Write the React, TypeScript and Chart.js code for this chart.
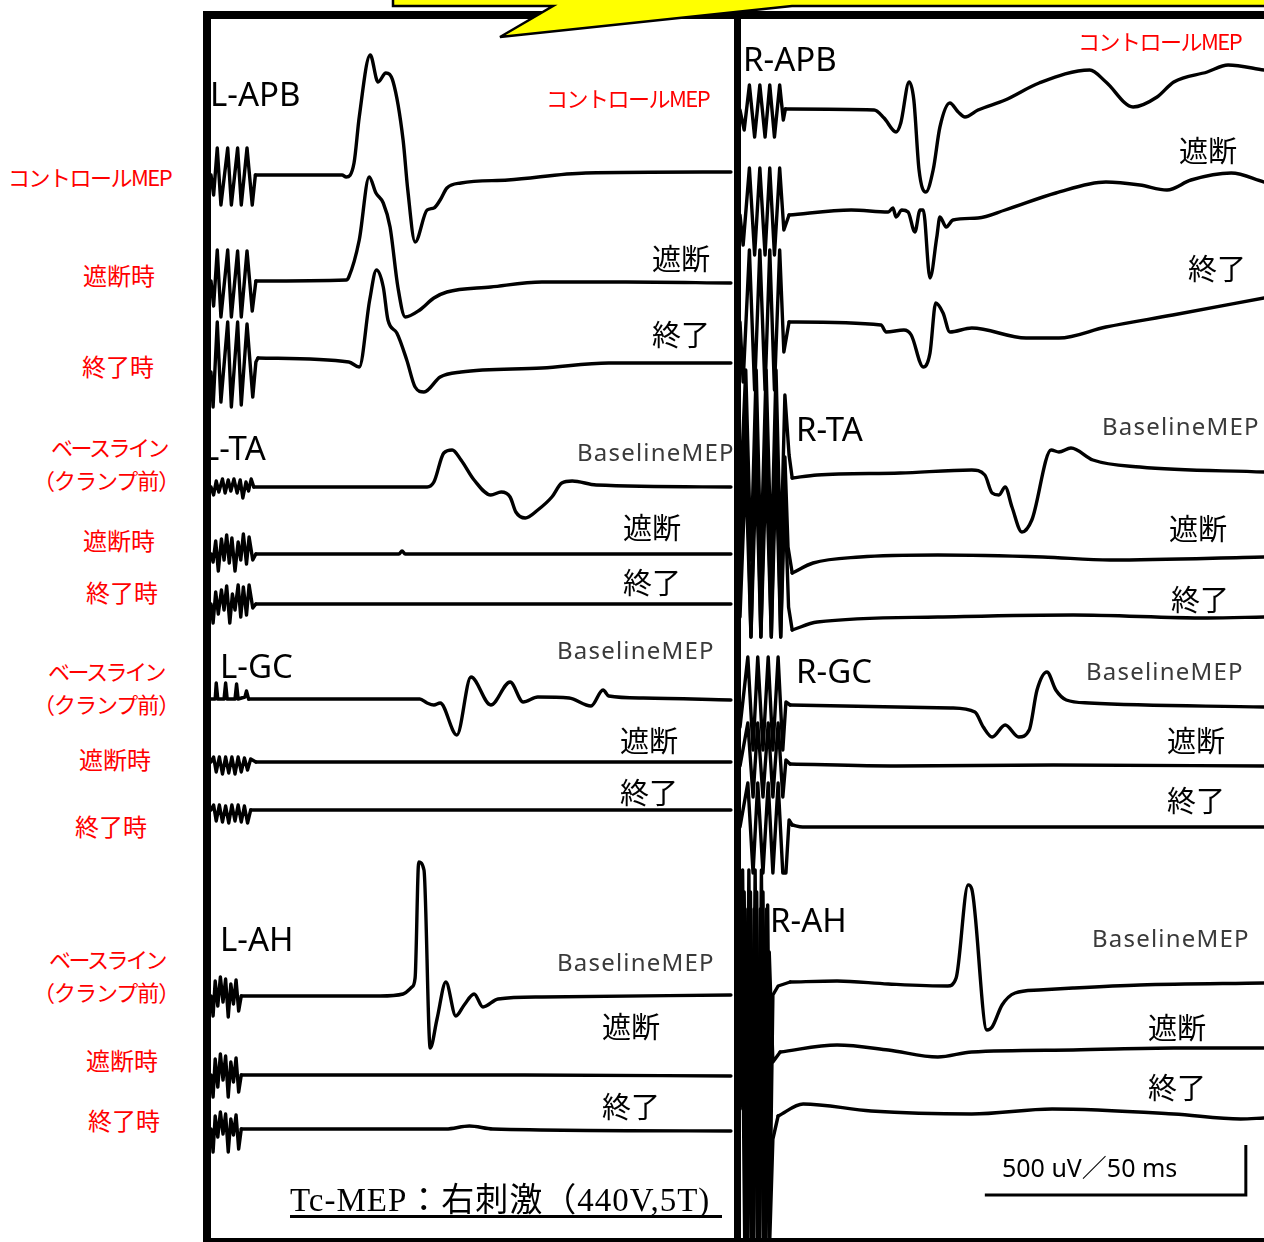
import React, { useEffect, useRef } from "react";
import { Chart, registerables } from "chart.js";

Chart.register(...registerables);

type Pt = [number, number]; // [time ms, amplitude uV]

// ---------------- LEFT panel traces ----------------
const L_APB_CONTROL: Pt[] = [[0,0],[0.5,-200],[1.2,270],[1.9,-300],[3.2,270],[3.9,-300],[5.1,270],[5.8,-300],[6.9,270],[7.9,-300],[8.5,0],[25.1,0],[25.9,-20],[27.4,120],[28.4,580],[30.5,1200],[32.0,930],[33.5,1020],[34.9,930],[36.8,350],[37.7,-150],[39.1,-670],[41.4,-350],[42.7,-330],[43.9,-250],[45.2,-130],[47.9,-80],[56.9,-50],[71.8,20],[99.6,30]];
const L_APB_BLOCK: Pt[] = [[0,0],[0.5,-250],[1.2,310],[1.9,-360],[3.2,310],[3.9,-360],[5.1,300],[5.8,-360],[6.9,300],[7.9,-300],[8.6,0],[25.9,10],[26.4,40],[28.4,410],[30.3,1040],[31.6,880],[33.0,780],[34.3,540],[35.8,-60],[37.2,-360],[40.0,-290],[42.7,-170],[45.2,-110],[53.6,-60],[63.4,-10],[79.5,-10],[99.6,-20]];
const L_APB_END: Pt[] = [[0,-100],[0.4,-450],[1.2,400],[1.9,-400],[3.2,400],[3.9,-450],[5.1,400],[5.8,-430],[6.9,380],[8.0,-350],[8.6,0],[9.0,40],[26.4,0],[28.4,-50],[30.4,620],[31.7,920],[33.0,750],[33.9,420],[35.6,290],[37.5,20],[39.1,-250],[40.8,-300],[43.9,-150],[47.9,-100],[63.4,-60],[76.2,-10],[99.6,-10]];

const L_TA_BASE: Pt[] = [[0,0],[0.5,-80],[1.0,60],[1.5,-50],[2.2,80],[2.7,-60],[3.3,70],[3.8,-40],[4.4,80],[5.0,-60],[5.6,70],[6.1,-110],[6.7,50],[7.2,-40],[7.7,80],[8.2,0],[41.4,0],[42.7,50],[44.6,340],[46.2,370],[47.9,270],[50.4,70],[53.6,-80],[55.6,-50],[57.3,-100],[58.4,-250],[60.2,-310],[62.6,-230],[65.3,-100],[67.2,40],[69.2,60],[73.8,20],[99.6,0]];
const L_TA_BLOCK: Pt[] = [[0,0],[0.4,-80],[0.9,130],[1.4,-170],[2.0,150],[2.5,-60],[3.0,190],[3.5,-90],[4.0,160],[4.6,-170],[5.2,120],[5.7,-60],[6.2,200],[6.8,-100],[7.3,170],[8.0,-60],[8.6,0],[36.0,0],[36.6,30],[37.2,0],[99.6,0]];
const L_TA_END: Pt[] = [[0,0],[0.4,-190],[0.9,120],[1.4,-100],[2.0,140],[2.5,-60],[3.0,180],[3.6,-190],[4.1,100],[4.6,-60],[5.2,190],[5.7,-130],[6.2,170],[6.8,-110],[7.3,190],[8.0,-40],[8.6,0],[99.6,0]];

const L_GC_BASE: Pt[] = [[0,0],[0.8,0],[1.0,160],[1.3,0],[2.5,0],[2.8,160],[3.1,0],[4.6,0],[4.9,150],[5.2,0],[6.5,20],[6.8,80],[7.2,0],[40.0,0],[41.4,-40],[42.7,-60],[43.9,-40],[47.1,-360],[49.8,220],[53.6,-60],[57.3,170],[59.8,-30],[62.6,20],[68.6,10],[72.8,-70],[75.1,90],[76.2,30],[82.8,10],[99.6,-10]];
const L_GC_BLOCK: Pt[] = [[0,0],[0.5,50],[1.0,-100],[1.6,50],[2.2,-120],[2.8,50],[3.4,-110],[4.0,50],[4.6,-120],[5.2,50],[5.8,-100],[6.4,40],[7.0,-80],[7.6,30],[8.6,0],[99.6,0]];
const L_GC_END: Pt[] = [[0,0],[0.5,50],[1.0,-110],[1.6,50],[2.2,-120],[2.8,40],[3.4,-130],[4.0,50],[4.6,-110],[5.2,50],[5.8,-120],[6.4,40],[7.0,-130],[7.6,0],[99.6,0]];

const L_AH_BASE: Pt[] = [[0,0],[0.4,-200],[0.8,150],[1.3,-100],[1.8,190],[2.3,-60],[2.8,170],[3.3,-210],[3.8,120],[4.3,-80],[4.8,160],[5.3,-150],[5.8,0],[32.4,0],[36.8,20],[38.5,90],[39.1,180],[39.8,1340],[40.8,1260],[42.0,-520],[43.3,-230],[45.0,140],[46.9,-200],[48.5,-90],[50.4,20],[52.1,-110],[55.0,-30],[63.4,-10],[99.6,10]];
const L_AH_BLOCK: Pt[] = [[0,0],[0.4,-220],[0.8,160],[1.3,-120],[1.8,210],[2.3,-50],[2.8,190],[3.3,-220],[3.8,130],[4.3,-70],[4.8,170],[5.3,-170],[5.8,0],[30,0],[60,0],[99.6,-10]];
const L_AH_END: Pt[] = [[0,0],[0.4,-230],[0.8,130],[1.3,-80],[1.8,170],[2.3,-50],[2.8,150],[3.3,-230],[3.8,100],[4.3,-60],[4.8,140],[5.3,-200],[5.8,0],[45,0],[49.5,30],[54,0],[99.6,-20]];

// ---------------- RIGHT panel traces ----------------
const R_APB_CONTROL: Pt[] = [[0,0],[0.8,-200],[1.8,250],[2.8,-270],[3.8,250],[4.8,-270],[5.7,250],[6.6,-270],[7.6,250],[8.3,-100],[8.7,10],[25.7,0],[27.6,-80],[29.9,-220],[30.8,-130],[32.4,280],[33.3,100],[34.3,-600],[35.6,-820],[37.0,-600],[38.3,-170],[40.2,70],[41.8,-20],[43.1,-70],[45.6,0],[50.8,100],[57.3,270],[67.0,400],[70.1,280],[75.3,30],[79.9,130],[83.1,280],[89.5,380],[93.5,450],[100.4,400]];
const R_APB_BLOCK: Pt[] = [[0,0],[0.6,-300],[1.8,470],[2.8,-400],[3.8,470],[4.8,-400],[5.7,470],[6.6,-400],[7.6,470],[8.4,-150],[9.4,0],[21.3,50],[28.4,30],[29.3,70],[29.9,-20],[31.0,50],[32.2,30],[33.5,-170],[34.5,50],[35.1,50],[36.4,-630],[37.7,-220],[38.3,-20],[39.5,-120],[40.8,-50],[45.6,-30],[50.8,50],[60.5,220],[70.1,330],[76.6,300],[81.8,250],[86.4,350],[94.1,420],[100.4,330]];
const R_APB_END: Pt[] = [[0,0],[0.6,-600],[1.8,720],[2.8,-680],[3.8,720],[4.8,-680],[5.7,720],[6.6,-680],[7.6,720],[8.4,-300],[9.4,0],[27.0,-30],[28.0,-100],[31.4,-80],[32.8,-130],[35.1,-450],[36.4,-310],[37.5,190],[38.9,90],[40.2,-100],[44.4,-60],[54.8,-160],[61.1,-160],[70.1,-50],[82.9,70],[100.4,240]];

const R_TA_BASE: Pt[] = [[0,-300],[1.1,1050],[2.1,-850],[3.1,1050],[4.0,-850],[5.0,1050],[6.0,-850],[6.9,1050],[7.8,-850],[8.6,800],[9.4,200],[10.0,-30],[14.8,0],[30.7,20],[44.4,50],[46.9,0],[48.3,-180],[49.6,-200],[50.8,-120],[52.1,-320],[54.0,-570],[55.9,-450],[59.6,250],[61.1,230],[63.4,270],[67.6,150],[76.6,80],[100.4,30]];
const R_TA_BLOCK: Pt[] = [[0,0],[1.1,1400],[2.1,-800],[3.1,1400],[4.0,-800],[5.0,1400],[6.0,-800],[6.9,1400],[7.8,-800],[8.6,1000],[9.2,100],[10.0,-160],[14.0,-60],[23.0,0],[37.9,20],[58.0,0],[70.9,-30],[100.4,0]];
const R_TA_END: Pt[] = [[0,0],[1.1,1500],[2.1,-200],[3.1,1500],[4.0,-200],[5.0,1500],[6.0,-200],[6.9,1500],[7.8,-200],[8.6,1200],[9.3,100],[10.0,-130],[14.8,-50],[37.9,0],[63.8,20],[89.5,-10],[100.4,0]];

const R_GC_BASE: Pt[] = [[0,-200],[1.5,500],[2.5,-430],[3.4,500],[4.4,-430],[5.4,500],[6.3,-430],[7.3,500],[8.2,-430],[8.8,50],[9.6,20],[40.4,-10],[45.0,-50],[46.6,-200],[48.3,-300],[50.8,-180],[53.4,-300],[55.4,-230],[56.9,170],[58.8,350],[60.5,170],[62.5,70],[66.9,40],[100.4,0]];
const R_GC_BLOCK: Pt[] = [[0,0],[1.5,430],[2.5,-310],[3.4,430],[4.4,-310],[5.4,430],[6.3,-310],[7.3,430],[8.2,-310],[8.8,60],[9.6,20],[30,0],[60,10],[100.4,0]];
const R_GC_END: Pt[] = [[0,0],[1.5,440],[2.5,-460],[3.4,440],[4.4,-460],[5.4,440],[6.3,-460],[7.3,440],[8.2,-460],[8.8,-460],[9.4,70],[10.0,20],[12,0],[60,0],[100.4,0]];

const R_AH_BASE: Pt[] = [[0,0],[0.5,1150],[1.1,-2550],[1.7,1150],[2.3,-2550],[2.9,1150],[3.5,-2550],[4.1,1150],[4.7,-2550],[5.3,800],[5.8,-2000],[6.3,-100],[7.3,-10],[9.6,30],[18.6,40],[28.4,10],[39.8,-10],[41.4,70],[43.7,1000],[44.4,960],[47.3,-450],[48.3,-420],[50.2,-200],[52.7,-80],[57.3,-50],[63.8,-30],[76.6,0],[100.4,20]];
const R_AH_BLOCK: Pt[] = [[0,0],[0.8,1600],[1.4,-1880],[2.0,1600],[2.6,-1880],[3.2,1600],[3.8,-1880],[4.4,1600],[5.0,-1880],[5.6,1000],[6.3,-100],[7.7,0],[18.6,70],[28.4,20],[37.9,-50],[44.4,0],[63.8,20],[83.1,40],[100.4,40]];
const R_AH_END: Pt[] = [[0,0],[0.3,2000],[0.9,-1310],[1.5,2000],[2.1,-1310],[2.7,2000],[3.3,-1310],[3.9,2000],[4.5,-1310],[5.1,2000],[5.7,-1310],[6.3,-300],[7.3,-70],[12.1,50],[25.1,-20],[44.4,-50],[59.8,0],[83.1,-50],[95.9,-100],[100.4,-90]];

// Stimulus artifact window (drawn with straight segments)
const ARTIFACT_END_MS = 10;

// Calibration bar values
const SCALE_BAR_MS = 50;
const SCALE_BAR_UV = 500;
const SCALE_LABEL = "500 uV／50 ms";

// Text content
const ROW_LABELS_RED = ["コントロールMEP", "遮断時", "終了時", "ベースライン", "（クランプ前）", "遮断時", "終了時", "ベースライン", "（クランプ前）", "遮断時", "終了時", "ベースライン", "（クランプ前）", "遮断時", "終了時"];
const MUSCLES = ["L-APB", "L-TA", "L-GC", "L-AH", "R-APB", "R-TA", "R-GC", "R-AH"];
const TITLE = "Tc-MEP：右刺激（440V,5T)";

// ---------------- layout (positions / offsets) ----------------
const LEFT_SERIES: Pt[][] = [L_APB_CONTROL, L_APB_BLOCK, L_APB_END, L_TA_BASE, L_TA_BLOCK, L_TA_END, L_GC_BASE, L_GC_BLOCK, L_GC_END, L_AH_BASE, L_AH_BLOCK, L_AH_END];
const RIGHT_SERIES: Pt[][] = [R_APB_CONTROL, R_APB_BLOCK, R_APB_END, R_TA_BASE, R_TA_BLOCK, R_TA_END, R_GC_BASE, R_GC_BLOCK, R_GC_END, R_AH_BASE, R_AH_BLOCK, R_AH_END];
const LEFT_OFFSETS = [-1550, -2610, -3420, -4670, -5340, -5840, -6790, -7420, -7900, -9760, -10550, -11090];
const RIGHT_OFFSETS = [-900, -1950, -3020, -4550, -5370, -5970, -6870, -7460, -8070, -9650, -10320, -10890];
const Y_SPAN = 12180;
const SCALE_ANCHOR = { t: 46.9, v: -11750 };

const RED_POS = [
  { x: 8, y: 176, s: 22, ls: -1.5 },
  { x: 83, y: 275, s: 24, ls: 0 },
  { x: 82, y: 366, s: 24, ls: 0 },
  { x: 51, y: 446, s: 22, ls: -2.5 },
  { x: 33, y: 479, s: 22, ls: -1 },
  { x: 83, y: 540, s: 24, ls: 0 },
  { x: 86, y: 592, s: 24, ls: 0 },
  { x: 48, y: 670, s: 22, ls: -2.5 },
  { x: 33, y: 703, s: 22, ls: -1 },
  { x: 79, y: 759, s: 24, ls: 0 },
  { x: 75, y: 826, s: 24, ls: 0 },
  { x: 49, y: 958, s: 22, ls: -2.5 },
  { x: 33, y: 991, s: 22, ls: -1 },
  { x: 86, y: 1060, s: 24, ls: 0 },
  { x: 88, y: 1120, s: 24, ls: 0 },
];
const MUSCLE_POS = [
  { x: 210, y: 93 }, { x: 202, y: 447 }, { x: 220, y: 665 }, { x: 220, y: 938 },
  { x: 743, y: 58 }, { x: 796, y: 428 }, { x: 796, y: 670 }, { x: 770, y: 919 },
];
const BLOCK_POS = [
  { x: 652, y: 257 }, { x: 623, y: 526 }, { x: 620, y: 739 }, { x: 602, y: 1025 },
  { x: 1179, y: 149 }, { x: 1169, y: 527 }, { x: 1167, y: 739 }, { x: 1148, y: 1026 },
];
const END_POS = [
  { x: 652, y: 333 }, { x: 623, y: 581 }, { x: 620, y: 791 }, { x: 602, y: 1105 },
  { x: 1188, y: 267 }, { x: 1171, y: 598 }, { x: 1167, y: 799 }, { x: 1148, y: 1086 },
];
const BASELINE_POS = [
  { x: 577, y: 452 }, { x: 557, y: 650 }, { x: 557, y: 962 },
  { x: 1102, y: 426 }, { x: 1086, y: 671 }, { x: 1092, y: 938 },
];
const CONTROL_POS = [{ x: 546, y: 97 }, { x: 1078, y: 40 }];

const CJK = '"Noto Sans CJK JP", "Noto Sans", sans-serif';
const LATIN = '"Noto Sans", "Noto Sans CJK JP", sans-serif';

function lineDs(points: { x: number; y: number }[], smooth: boolean) {
  return {
    data: points,
    borderColor: "#000",
    borderWidth: 3.4,
    pointRadius: 0,
    showLine: true,
    tension: 0,
    cubicInterpolationMode: smooth ? "monotone" : "default",
    fill: false,
    borderJoinStyle: "round",
    borderCapStyle: "round",
  };
}

function TracePanel(props: { left: number; top: number; width: number; height: number; xMax: number; series: Pt[][]; offsets: number[]; scaleBar?: boolean }) {
  const ref = useRef<HTMLCanvasElement | null>(null);
  useEffect(() => {
    const datasets: any[] = [];
    props.series.forEach((s, i) => {
      const pts = s.map(([t, v]) => ({ x: t, y: v + props.offsets[i] }));
      let cut = 0;
      s.forEach(([t], j) => { if (t <= ARTIFACT_END_MS) cut = j; });
      datasets.push(lineDs(pts.slice(0, cut + 1), false));
      datasets.push(lineDs(pts.slice(cut), true));
    });
    if (props.scaleBar) {
      datasets.push({
        data: [
          { x: SCALE_ANCHOR.t, y: SCALE_ANCHOR.v },
          { x: SCALE_ANCHOR.t + SCALE_BAR_MS, y: SCALE_ANCHOR.v },
          { x: SCALE_ANCHOR.t + SCALE_BAR_MS, y: SCALE_ANCHOR.v + SCALE_BAR_UV },
        ],
        borderColor: "#000",
        borderWidth: 3,
        pointRadius: 0,
        showLine: true,
        tension: 0,
        fill: false,
        borderJoinStyle: "miter",
      });
    }
    const chart = new Chart(ref.current as HTMLCanvasElement, {
      type: "scatter",
      data: { datasets },
      options: {
        animation: false,
        responsive: false,
        maintainAspectRatio: false,
        devicePixelRatio: 1,
        events: [],
        layout: { padding: 0 },
        plugins: { legend: { display: false }, tooltip: { enabled: false } },
        scales: {
          x: { type: "linear", min: 0, max: props.xMax, display: false },
          y: { type: "linear", min: -Y_SPAN, max: 0, display: false },
        },
      },
    });
    return () => chart.destroy();
  }, []);
  return (
    <canvas
      ref={ref}
      width={props.width}
      height={props.height}
      style={{ position: "absolute", left: props.left, top: props.top, width: props.width, height: props.height }}
    />
  );
}

function Label(p: { x: number; y: number; text: string; size: number; color?: string; family?: string; ls?: number }) {
  return (
    <div
      style={{
        position: "absolute",
        left: p.x,
        top: p.y,
        transform: "translateY(-50%)",
        fontSize: p.size,
        lineHeight: 1,
        whiteSpace: "nowrap",
        color: p.color || "#000",
        fontFamily: p.family || CJK,
        letterSpacing: p.ls || 0,
      }}
    >
      {p.text}
    </div>
  );
}

export default function App() {
  return (
    <div style={{ position: "absolute", left: 0, top: 0, width: 1264, height: 1242, overflow: "hidden", background: "#fff" }}>
      <TracePanel left={211} top={20} width={522} height={1218} xMax={100} series={LEFT_SERIES} offsets={LEFT_OFFSETS} />
      <TracePanel left={740} top={20} width={524} height={1218} xMax={100.38} series={RIGHT_SERIES} offsets={RIGHT_OFFSETS} scaleBar />

      {ROW_LABELS_RED.map((t, i) => (
        <Label key={"r" + i} x={RED_POS[i].x} y={RED_POS[i].y} text={t} size={RED_POS[i].s} ls={RED_POS[i].ls} color="#ff0000" />
      ))}
      {MUSCLES.map((t, i) => (
        <Label key={"m" + i} x={MUSCLE_POS[i].x} y={MUSCLE_POS[i].y} text={t} size={33} family={LATIN} />
      ))}
      {BLOCK_POS.map((p, i) => (
        <Label key={"b" + i} x={p.x} y={p.y} text="遮断" size={29} />
      ))}
      {END_POS.map((p, i) => (
        <Label key={"e" + i} x={p.x} y={p.y} text="終了" size={29} />
      ))}
      {BASELINE_POS.map((p, i) => (
        <Label key={"bl" + i} x={p.x} y={p.y} text="BaselineMEP" size={24} family={LATIN} ls={1.2} color="#3a3a3a" />
      ))}
      {CONTROL_POS.map((p, i) => (
        <Label key={"c" + i} x={p.x} y={p.y} text="コントロールMEP" size={22} ls={-1.5} color="#ff0000" />
      ))}
      <Label x={1002} y={1167} text={SCALE_LABEL} size={25} family={LATIN} />

      <div
        style={{
          position: "absolute",
          left: 290,
          top: 1200,
          transform: "translateY(-50%)",
          fontSize: 33,
          lineHeight: 1,
          whiteSpace: "nowrap",
          fontFamily: '"Liberation Serif", "DejaVu Serif", "Noto Sans CJK JP", serif',
          letterSpacing: 1,
          color: "#000",
        }}
      >
        {TITLE}
      </div>
      <div style={{ position: "absolute", left: 290, top: 1215, width: 432, height: 3, background: "#000" }} />

      {/* frames */}
      <div style={{ position: "absolute", left: 203, top: 11, width: 8, height: 1231, background: "#000" }} />
      <div style={{ position: "absolute", left: 203, top: 11, width: 1061, height: 8, background: "#000" }} />
      <div style={{ position: "absolute", left: 734, top: 11, width: 7, height: 1231, background: "#000" }} />
      <div style={{ position: "absolute", left: 203, top: 1238, width: 1061, height: 4, background: "#000" }} />

      {/* callout */}
      <svg width={1264} height={60} style={{ position: "absolute", left: 0, top: 0 }}>
        <polygon points="393,-5 393,6 553,6 500,37 792,6 1270,6 1270,-5" fill="#ffff00" stroke="#000" strokeWidth={2.5} />
      </svg>
    </div>
  );
}
